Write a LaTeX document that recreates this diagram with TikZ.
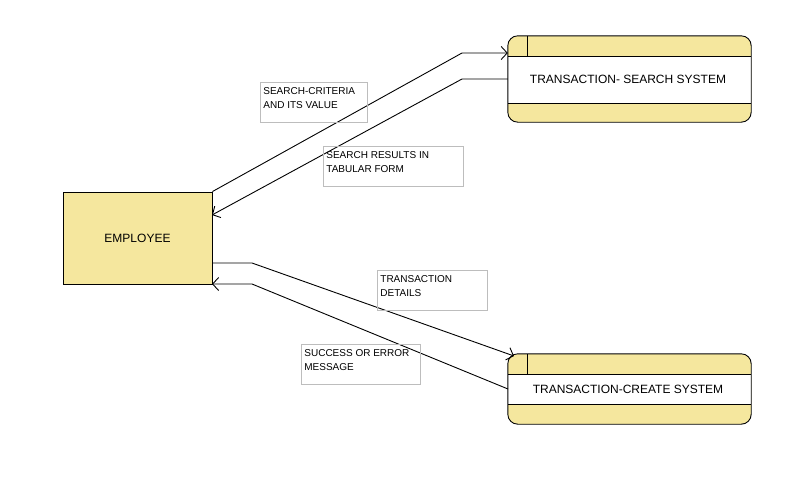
\documentclass[tikz,border=0pt]{standalone}
\usepackage{fontspec}
\setmainfont{Liberation Sans}
\usetikzlibrary{arrows.meta}
\definecolor{dfdyellow}{HTML}{F5E79E}
\definecolor{labelgray}{HTML}{BDBDBD}
\newcommand{\lbltxt}[2]{\parbox[t][29pt][t]{#1}{\raggedright #2}}
\begin{document}
\begin{tikzpicture}[x=1pt,y=-1pt,
  entity/.style={draw, fill=dfdyellow, line width=0.9pt, minimum width=149pt, minimum height=92pt, inner sep=0pt, font=\fontsize{12}{14}\selectfont},
  procbox/.style={fill=dfdyellow, rounded corners=10pt, minimum width=243pt, minimum height=#1, inner sep=0pt},
  proctext/.style={font=\fontsize{12}{14}\selectfont, inner sep=0pt},
  lbl/.style={draw=labelgray, line width=0.8pt, anchor=north west, inner xsep=3pt, inner ysep=5.5pt, font=\fontsize{10}{14}\selectfont},
  flow/.style={line width=0.9pt, -{Straight Barb[length=6pt,width=13pt,line width=0.9pt]}},
  plain/.style={line width=0.9pt}
]
\useasboundingbox (0,0) rectangle (806,498);

% external entity
\node[entity] (emp) at (137.5,238) {EMPLOYEE};

% process: search
\node[procbox=86pt] (srch) at (629.5,79) {};
\fill[white] (508,56) rectangle (751,103);
\draw[plain] (508,56) -- (751,56) (508,103) -- (751,103) (527,36) -- (527,56);
\draw[plain, rounded corners=10pt] (srch.north west) rectangle (srch.south east);
\node[proctext] (srcht) at (628,79.5) {TRANSACTION- SEARCH SYSTEM};

% process: create
\node[procbox=70pt] (crt) at (629.5,389) {};
\fill[white] (508,374) rectangle (751,404);
\draw[plain] (508,374) -- (751,374) (508,404) -- (751,404) (527,354) -- (527,374);
\draw[plain, rounded corners=10pt] (crt.north west) rectangle (crt.south east);
\node[proctext] (crtt) at (628,389) {TRANSACTION-CREATE SYSTEM};

% bend coordinates
\coordinate (b1) at (462,53);
\coordinate (b2) at (462,79);
\coordinate (e2) at (212,215);
\coordinate (e3) at (212,263);
\coordinate (b3) at (252,263);
\coordinate (c3) at (514,356);
\coordinate (c4) at (508,389);
\coordinate (b4) at (252,284);
\coordinate (e4) at (212,284);

% connectors
\draw[flow] (emp.north east) -- (b1) -- (srch.west |- b1);
\draw[flow] (srch.west) -- (b2) -- (e2);
\draw[flow] (e3) -- (b3) -- (c3);
\draw[flow] (c4) -- (b4) -- (e4);

% labels
\node[lbl] (l1) at (260,82) {\lbltxt{101pt}{SEARCH-CRITERIA\\AND ITS VALUE}};
\node[lbl] (l2) at (323,146) {\lbltxt{134pt}{SEARCH RESULTS IN\\TABULAR FORM}};
\node[lbl] (l3) at (377,270) {\lbltxt{104pt}{TRANSACTION\\DETAILS}};
\node[lbl] (l4) at (301,344) {\lbltxt{113pt}{SUCCESS OR ERROR\\MESSAGE}};
\end{tikzpicture}
\end{document}
